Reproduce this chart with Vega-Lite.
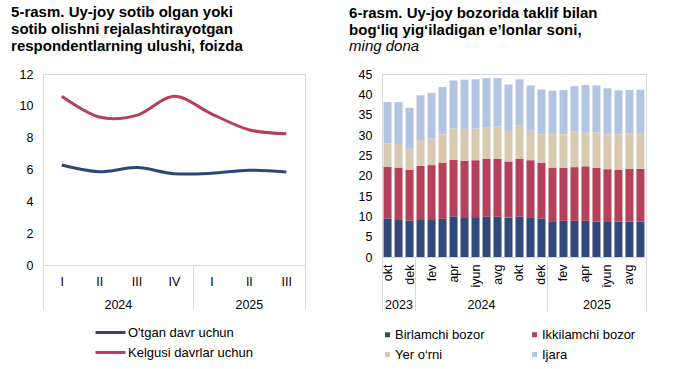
{
  "$schema": "https://vega.github.io/schema/vega-lite/v6.json",
  "padding": {"left": 10, "top": 4, "right": 5, "bottom": 0},
  "background": "white",
  "config": {
    "font": "Liberation Sans",
    "view": {"stroke": "#d9d9d9"},
    "axis": {"labelFont": "Liberation Sans", "labelFontSize": 12.5, "labelColor": "#000", "grid": false, "ticks": false, "domain": false, "title": null},
    "legend": {"labelFont": "Liberation Sans", "labelFontSize": 13, "labelColor": "#000", "title": null, "padding": 0}
  },
  "datasets": {
    "lines": [
      {"q": "2024-I", "s": "O'tgan davr uchun", "v": 6.28},
      {"q": "2024-II", "s": "O'tgan davr uchun", "v": 5.86},
      {"q": "2024-III", "s": "O'tgan davr uchun", "v": 6.12},
      {"q": "2024-IV", "s": "O'tgan davr uchun", "v": 5.74},
      {"q": "2025-I", "s": "O'tgan davr uchun", "v": 5.76},
      {"q": "2025-II", "s": "O'tgan davr uchun", "v": 5.95},
      {"q": "2025-III", "s": "O'tgan davr uchun", "v": 5.84},
      {"q": "2024-I", "s": "Kelgusi davrlar uchun", "v": 10.6},
      {"q": "2024-II", "s": "Kelgusi davrlar uchun", "v": 9.3},
      {"q": "2024-III", "s": "Kelgusi davrlar uchun", "v": 9.4},
      {"q": "2024-IV", "s": "Kelgusi davrlar uchun", "v": 10.6},
      {"q": "2025-I", "s": "Kelgusi davrlar uchun", "v": 9.5},
      {"q": "2025-II", "s": "Kelgusi davrlar uchun", "v": 8.5},
      {"q": "2025-III", "s": "Kelgusi davrlar uchun", "v": 8.25}
    ],
    "qgroups": [{"p": 0}, {"p": 2}, {"p": 4}, {"p": 5.5}, {"p": 7}],
    "mgroups": [{"p": 0}, {"p": 1.5}, {"p": 3}, {"p": 9}, {"p": 15}, {"p": 19.5}, {"p": 24}],
    "series": [
      {"k": "b", "name": "Birlamchi bozor", "o": 1},
      {"k": "i", "name": "Ikkilamchi bozor", "o": 2},
      {"k": "y", "name": "Yer o‘rni", "o": 3},
      {"k": "j", "name": "Ijara", "o": 4}
    ],
    "bars": [
      {"m": "2023-10", "b": 9.5, "i": 12.7, "y": 5.7, "j": 10.2},
      {"m": "2023-11", "b": 9.3, "i": 12.7, "y": 5.8, "j": 10.3},
      {"m": "2023-12", "b": 9.0, "i": 12.5, "y": 5.1, "j": 10.1},
      {"m": "2024-01", "b": 9.1, "i": 13.3, "y": 6.4, "j": 11.0},
      {"m": "2024-02", "b": 9.3, "i": 13.3, "y": 6.5, "j": 11.2},
      {"m": "2024-03", "b": 9.4, "i": 13.8, "y": 7.0, "j": 11.6},
      {"m": "2024-04", "b": 10.0, "i": 13.9, "y": 7.7, "j": 11.8},
      {"m": "2024-05", "b": 9.8, "i": 13.9, "y": 7.8, "j": 12.1},
      {"m": "2024-06", "b": 9.8, "i": 14.0, "y": 7.8, "j": 12.1},
      {"m": "2024-07", "b": 9.9, "i": 14.2, "y": 7.7, "j": 12.2},
      {"m": "2024-08", "b": 9.9, "i": 14.2, "y": 8.0, "j": 11.9},
      {"m": "2024-09", "b": 9.7, "i": 13.8, "y": 7.5, "j": 11.4},
      {"m": "2024-10", "b": 9.9, "i": 14.2, "y": 8.2, "j": 11.4},
      {"m": "2024-11", "b": 9.6, "i": 14.2, "y": 7.3, "j": 11.1},
      {"m": "2024-12", "b": 9.5, "i": 13.7, "y": 7.0, "j": 11.0},
      {"m": "2025-01", "b": 8.8, "i": 13.2, "y": 8.3, "j": 10.6},
      {"m": "2025-02", "b": 8.9, "i": 13.0, "y": 8.3, "j": 10.9},
      {"m": "2025-03", "b": 8.9, "i": 13.2, "y": 8.7, "j": 11.2},
      {"m": "2025-04", "b": 8.9, "i": 13.4, "y": 8.4, "j": 11.6},
      {"m": "2025-05", "b": 8.7, "i": 13.2, "y": 8.7, "j": 11.6},
      {"m": "2025-06", "b": 8.6, "i": 13.0, "y": 8.5, "j": 11.4},
      {"m": "2025-07", "b": 8.7, "i": 12.8, "y": 8.7, "j": 10.8},
      {"m": "2025-08", "b": 8.7, "i": 13.0, "y": 8.6, "j": 10.8},
      {"m": "2025-09", "b": 8.7, "i": 13.0, "y": 8.6, "j": 10.8}
    ]
  },
  "spacing": 42,
  "resolve": {"scale": {"color": "independent"}, "legend": {"color": "independent"}},
  "hconcat": [
    {
      "width": 262,
      "height": 191,
      "title": {
        "text": ["5-rasm. Uy-joy sotib olgan yoki", "sotib olishni rejalashtirayotgan", "respondentlarning ulushi, foizda"],
        "anchor": "start", "frame": "bounds", "dx": -8, "font": "Liberation Sans", "fontSize": 15, "fontWeight": "bold", "lineHeight": 17, "offset": 14, "color": "#000"
      },
      "layer": [
        {
          "data": {"name": "lines"},
          "mark": {"type": "line", "interpolate": "cardinal", "strokeWidth": 3},
          "encoding": {
            "x": {"field": "q", "type": "ordinal", "sort": null, "axis": {"labelExpr": "split(datum.value,'-')[1]", "labelAngle": 0, "labelPadding": 10}},
            "y": {"field": "v", "type": "quantitative", "scale": {"domain": [0, 12]}, "axis": {"values": [0, 2, 4, 6, 8, 10, 12], "labelPadding": 10}},
            "color": {
              "field": "s", "type": "nominal",
              "scale": {"domain": ["O'tgan davr uchun", "Kelgusi davrlar uchun"], "range": ["#2F4673", "#B5405A"]},
              "legend": {"orient": "none", "legendX": 61, "legendY": 252, "direction": "vertical", "symbolType": "M-3,0H3", "symbolSize": 100, "symbolStrokeWidth": 3, "symbolFillColor": "transparent", "labelOffset": 11, "rowPadding": 6}
            }
          }
        },
        {
          "data": {"name": "qgroups"},
          "mark": {"type": "rule", "opacity": 0},
          "encoding": {
            "x": {
              "field": "p", "type": "quantitative",
              "scale": {"domain": [0, 7], "nice": false, "zero": false},
              "axis": {
                "orient": "bottom", "values": [0, 2, 4, 5.5, 7], "ticks": true, "tickSize": 44, "tickColor": "#d9d9d9",
                "tickOpacity": {"condition": {"test": "datum.value == 2 || datum.value == 5.5", "value": 0}, "value": 1},
                "labelExpr": "datum.value == 2 ? '2024' : datum.value == 5.5 ? '2025' : ''",
                "labelPadding": -11, "labelFlush": false, "labelOverlap": false
              }
            }
          }
        }
      ],
      "resolve": {"scale": {"x": "independent"}}
    },
    {
      "width": 264,
      "height": 183,
      "title": {
        "text": ["6-rasm. Uy-joy bozorida taklif bilan", "bog‘liq yig‘iladigan e’lonlar soni,"],
        "subtitle": "ming dona",
        "anchor": "start", "frame": "bounds", "dx": -9, "font": "Liberation Sans", "fontSize": 15, "fontWeight": "bold", "lineHeight": 17, "offset": 14, "color": "#000",
        "subtitleFont": "Liberation Sans", "subtitleFontSize": 15, "subtitleFontStyle": "italic", "subtitleColor": "#000", "subtitlePadding": 1, "subtitleLineHeight": 17
      },
      "layer": [
        {
          "data": {"name": "bars"},
          "transform": [
            {"fold": ["b", "i", "y", "j"], "as": ["k", "v"]},
            {"lookup": "k", "from": {"data": {"name": "series"}, "key": "k", "fields": ["name", "o"]}}
          ],
          "mark": {"type": "bar"},
          "encoding": {
            "x": {
              "field": "m", "type": "ordinal", "sort": null,
              "scale": {"paddingInner": 0.27, "paddingOuter": 0.14},
              "axis": {
                "values": ["2023-10", "2023-12", "2024-02", "2024-04", "2024-06", "2024-08", "2024-10", "2024-12", "2025-02", "2025-04", "2025-06", "2025-08"],
                "labelAngle": 270, "labelPadding": 7,
                "labelExpr": "['yan','fev','mar','apr','may','iyun','iyul','avg','sen','okt','noy','dek'][toNumber(slice(datum.value,5)) - 1]"
              }
            },
            "y": {"field": "v", "type": "quantitative", "stack": "zero", "scale": {"domain": [0, 45]}, "axis": {"values": [0, 5, 10, 15, 20, 25, 30, 35, 40, 45], "labelPadding": 10}},
            "color": {
              "field": "name", "type": "nominal",
              "scale": {"domain": ["Birlamchi bozor", "Ikkilamchi bozor", "Yer o‘rni", "Ijara"], "range": ["#32487A", "#B5405A", "#D8CAB0", "#B3C4E3"]},
              "legend": {"orient": "none", "legendX": -1, "legendY": 254, "direction": "horizontal", "columns": 2, "columnPadding": 43, "gridAlign": "each", "symbolType": "square", "symbolSize": 25, "labelOffset": 1, "rowPadding": 6}
            },
            "order": {"field": "o", "type": "quantitative"}
          }
        },
        {
          "data": {"name": "mgroups"},
          "mark": {"type": "rule", "opacity": 0},
          "encoding": {
            "x": {
              "field": "p", "type": "quantitative",
              "scale": {"domain": [0, 24], "nice": false, "zero": false},
              "axis": {
                "orient": "bottom", "values": [0, 1.5, 3, 9, 15, 19.5, 24], "ticks": true, "tickSize": 54, "tickColor": "#d9d9d9",
                "tickOpacity": {"condition": {"test": "datum.value == 1.5 || datum.value == 9 || datum.value == 19.5", "value": 0}, "value": 1},
                "labelExpr": "datum.value == 1.5 ? '2023' : datum.value == 9 ? '2024' : datum.value == 19.5 ? '2025' : ''",
                "labelPadding": -13, "labelFlush": false, "labelOverlap": false
              }
            }
          }
        }
      ],
      "resolve": {"scale": {"x": "independent"}}
    }
  ]
}
